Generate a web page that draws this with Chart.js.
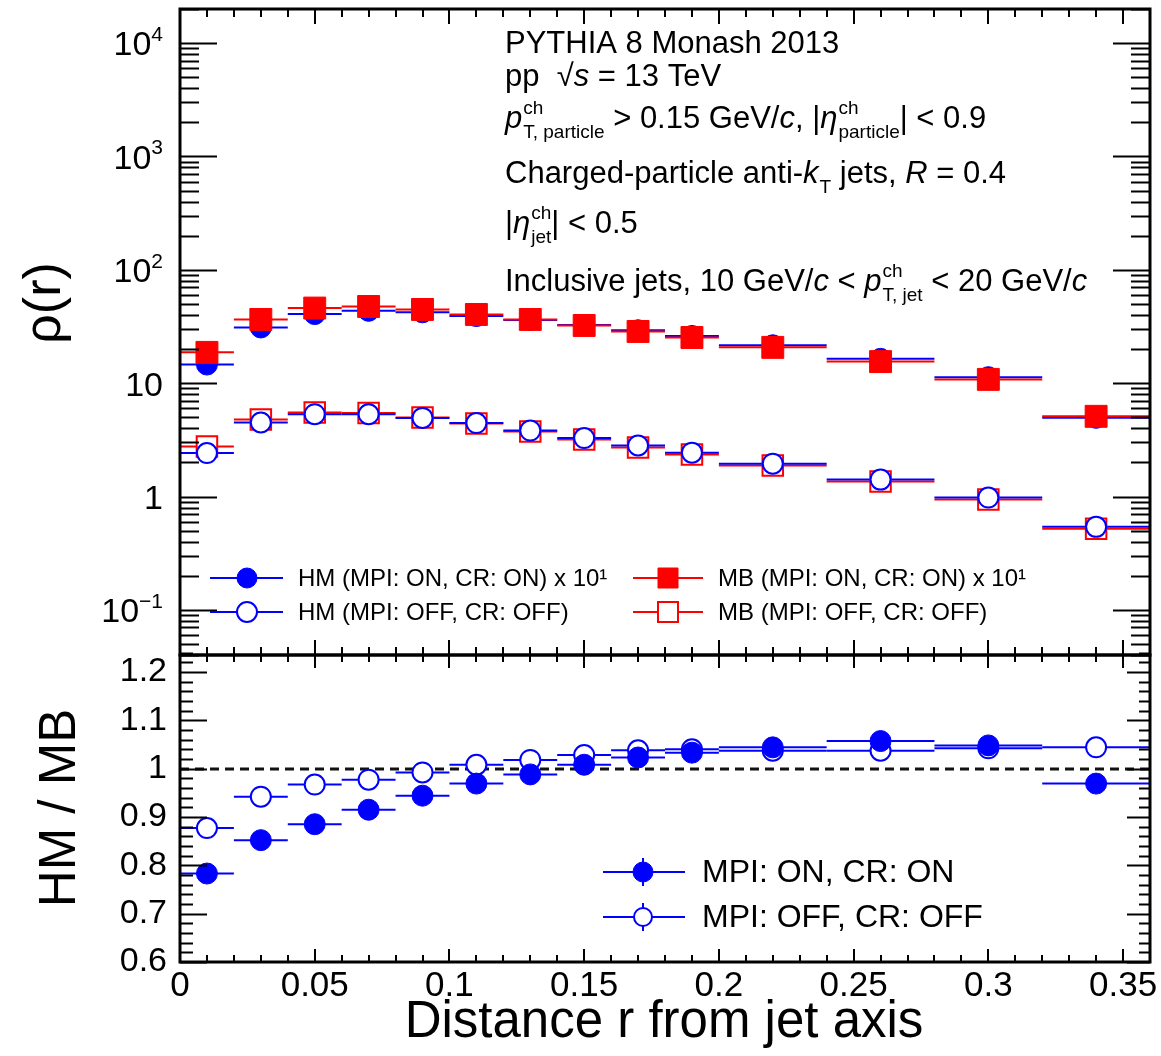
<!DOCTYPE html>
<html>
<head>
<meta charset="utf-8">
<script src="https://cdn.jsdelivr.net/npm/chart.js@4.4.0/dist/chart.umd.min.js"></script>
<style>
  body { margin: 0; background: #fff; }
  #wrap { position: relative; width: 1161px; height: 1056px; }
  canvas { position: absolute; left: 0; top: 0; }
</style>
</head>
<body>
<div id="wrap">
  <canvas id="topPanel" width="1161" height="1056"></canvas>
  <canvas id="ratioPanel" width="1161" height="1056"></canvas>
</div>
<script>
// bins in r
const binEdges = [0, 0.02, 0.04, 0.06, 0.08, 0.10, 0.12, 0.14, 0.16, 0.18, 0.20, 0.24, 0.28, 0.32, 0.36];
const rCenters = [0.01, 0.03, 0.05, 0.07, 0.09, 0.11, 0.13, 0.15, 0.17, 0.19, 0.22, 0.26, 0.30, 0.34];

// rho(r), MPI ON / CR ON are scaled x 10
const hmOn  = [14.6, 31.0, 40.7, 43.5, 42.2, 39.1, 36.1, 32.6, 29.3, 26.1, 21.6, 16.4, 11.3, 4.95];
const mbOn  = [18.7, 36.5, 46.0, 47.5, 44.7, 40.4, 36.5, 32.3, 28.6, 25.3, 20.7, 15.5, 10.8, 5.1];
const hmOff = [2.42, 4.50, 5.33, 5.32, 4.94, 4.45, 3.82, 3.28, 2.82, 2.44, 1.95, 1.41, 0.98, 0.54];
const mbOff = [2.76, 4.78, 5.51, 5.45, 4.98, 4.41, 3.75, 3.18, 2.71, 2.35, 1.88, 1.36, 0.94, 0.52];

// HM / MB
const ratioOn  = [0.783, 0.852, 0.885, 0.915, 0.944, 0.969, 0.988, 1.008, 1.023, 1.033, 1.044, 1.057, 1.048, 0.969];
const ratioOff = [0.877, 0.942, 0.967, 0.977, 0.992, 1.008, 1.018, 1.028, 1.038, 1.040, 1.037, 1.037, 1.042, 1.044];

const xTicks = [0, 0.05, 0.1, 0.15, 0.2, 0.25, 0.3, 0.35];
const xTickLabels = ['0', '0.05', '0.1', '0.15', '0.2', '0.25', '0.3', '0.35'];
const logTicks = [0.1, 1, 10, 100, 1000, 10000];
const logTickLabels = [['10', '\u22121'], ['1', ''], ['10', ''], ['10', '2'], ['10', '3'], ['10', '4']];
const ratioTicks = [0.6, 0.7, 0.8, 0.9, 1.0, 1.1, 1.2];
const ratioTickLabels = ['0.6', '0.7', '0.8', '0.9', '1', '1.1', '1.2'];

const BLUE = '#0000ff';
const RED = '#ff0000';
const FONT = '"Liberation Sans", Arial, Helvetica, sans-serif';
Chart.defaults.font.family = FONT;
Chart.defaults.color = '#000';

function series(values, color, style, filled, radius) {
  return {
    data: values.map((v, i) => ({ x: rCenters[i], y: v })),
    pointStyle: style,
    pointRadius: radius,
    pointHoverRadius: radius,
    pointBackgroundColor: filled ? color : '#fff',
    pointBorderColor: color,
    pointBorderWidth: filled ? 1 : 2,
    showLine: false,
    errColor: color
  };
}

// horizontal bars showing the bin width
const xErrBars = {
  id: 'xErrBars',
  beforeDatasetsDraw(chart) {
    const { ctx, chartArea: a, scales: { x, y } } = chart;
    ctx.save();
    ctx.beginPath();
    ctx.rect(a.left, a.top, a.width, a.height);
    ctx.clip();
    const sets = chart.data.datasets;
    for (let d = sets.length - 1; d >= 0; d--) {
      const ds = sets[d];
      ctx.strokeStyle = ds.errColor;
      ctx.lineWidth = 2;
      ds.data.forEach((p, i) => {
        const py = y.getPixelForValue(p.y);
        ctx.beginPath();
        ctx.moveTo(x.getPixelForValue(binEdges[i]), py);
        ctx.lineTo(x.getPixelForValue(binEdges[i + 1]), py);
        ctx.stroke();
      });
    }
    ctx.restore();
  }
};

// ROOT style frame with inward ticks on all sides
function drawFrame(chart, yTickList, o) {
  const { ctx, chartArea: a, scales: { x, y } } = chart;
  ctx.save();
  ctx.strokeStyle = '#000';
  ctx.lineWidth = 2;
  ctx.beginPath();
  for (let k = 0; k <= 36; k++) {
    const px = Math.round(x.getPixelForValue(k / 100));
    const len = k % 5 === 0 ? o.xMajor : o.xMinor;
    ctx.moveTo(px, a.top); ctx.lineTo(px, a.top + len);
    ctx.moveTo(px, a.bottom); ctx.lineTo(px, a.bottom - len);
  }
  yTickList.forEach(t => {
    const py = Math.round(y.getPixelForValue(t.v)) + 0.5;
    ctx.moveTo(a.left, py); ctx.lineTo(a.left + (t.major ? o.yMajor : o.yMinor), py);
    ctx.moveTo(a.right, py); ctx.lineTo(a.right - (t.major ? o.yMajorR : o.yMinorR), py);
  });
  ctx.stroke();
  ctx.lineWidth = 3;
  ctx.strokeRect(a.left, a.top, a.width, a.height);
  ctx.restore();
}

function marker(ctx, x, y, style, color, filled, r) {
  ctx.save();
  ctx.fillStyle = filled ? color : '#fff';
  ctx.strokeStyle = color;
  ctx.lineWidth = filled ? 1 : 2;
  ctx.beginPath();
  if (style === 'circle') ctx.arc(x, y, r, 0, Math.PI * 2);
  else ctx.rect(x - r, y - r, 2 * r, 2 * r);
  ctx.fill();
  ctx.stroke();
  ctx.restore();
}

function legendLine(ctx, x0, x1, y, color) {
  ctx.save();
  ctx.strokeStyle = color;
  ctx.lineWidth = 2;
  ctx.beginPath();
  ctx.moveTo(x0, y); ctx.lineTo(x1, y);
  ctx.stroke();
  ctx.restore();
}

// text with italics and stacked sub/superscripts
function drawRich(ctx, x, y, segs, size) {
  ctx.textBaseline = 'alphabetic';
  ctx.textAlign = 'left';
  ctx.fillStyle = '#000';
  segs.forEach(s => {
    if (typeof s === 'string') s = { t: s };
    if (s.sup !== undefined || s.sub !== undefined) {
      const ss = Math.round(size * 0.6);
      ctx.font = ss + 'px ' + FONT;
      let w = 0;
      if (s.sup) { ctx.fillText(s.sup, x + 1, y - size * 0.45); w = Math.max(w, ctx.measureText(s.sup).width); }
      if (s.sub) { ctx.fillText(s.sub, x + 1, y + size * 0.32); w = Math.max(w, ctx.measureText(s.sub).width); }
      x += w + 1;
    } else {
      ctx.font = (s.i ? 'italic ' : '') + size + 'px ' + FONT;
      ctx.fillText(s.t, x, y);
      x += ctx.measureText(s.t).width;
    }
  });
}

const infoLines = [
  [['PYTHIA 8 Monash 2013'], 53],
  [['pp  \u221A', { t: 's', i: true }, ' = 13 TeV'], 86],
  [[{ t: 'p', i: true }, { sup: 'ch', sub: 'T, particle' }, ' > 0.15 GeV/', { t: 'c', i: true }, ', |', { t: '\u03B7', i: true }, { sup: 'ch', sub: 'particle' }, '| < 0.9'], 128],
  [['Charged-particle anti-', { t: 'k', i: true }, { sub: 'T' }, ' jets, ', { t: 'R', i: true }, ' = 0.4'], 183],
  [['|', { t: '\u03B7', i: true }, { sup: 'ch', sub: 'jet' }, '| < 0.5'], 233],
  [['Inclusive jets, 10 GeV/', { t: 'c', i: true }, ' < ', { t: 'p', i: true }, { sup: 'ch', sub: 'T, jet' }, ' < 20 GeV/', { t: 'c', i: true }], 291]
];

const topDecor = {
  id: 'topDecor',
  afterDraw(chart) {
    const { ctx, scales: { y } } = chart;
    const ticks = [];
    for (let e = -2; e <= 4; e++) {
      for (let m = 1; m <= 9; m++) {
        const v = m * Math.pow(10, e);
        if (v >= y.min && v <= y.max) ticks.push({ v, major: m === 1 });
      }
    }
    drawFrame(chart, ticks, { xMajor: 15, xMinor: 8, yMajor: 37, yMinor: 19, yMajorR: 37, yMinorR: 19 });

    // log tick labels with exponent
    ctx.save();
    ctx.fillStyle = '#000';
    ctx.textBaseline = 'middle';
    ctx.textAlign = 'right';
    logTicks.forEach((v, i) => {
      const py = y.getPixelForValue(v) + 3;
      const [base, exp] = logTickLabels[i];
      let right = 163;
      if (exp) {
        ctx.font = '21px ' + FONT;
        ctx.fillText(exp, right, py - 11);
        right -= ctx.measureText(exp).width;
      }
      ctx.font = '34px ' + FONT;
      ctx.fillText(base, right, py);
    });

    // y title
    ctx.translate(60, 303);
    ctx.rotate(-Math.PI / 2);
    ctx.textAlign = 'center';
    ctx.textBaseline = 'alphabetic';
    ctx.font = '52px ' + FONT;
    ctx.fillText('\u03C1(r)', 0, 0);
    ctx.restore();

    // info text
    ctx.save();
    infoLines.forEach(([segs, by]) => drawRich(ctx, 505, by, segs, 31));
    ctx.restore();

    // legend
    ctx.save();
    ctx.font = '24px ' + FONT;
    ctx.textBaseline = 'middle';
    ctx.fillStyle = '#000';
    legendLine(ctx, 210, 283, 578, BLUE);
    marker(ctx, 247, 578, 'circle', BLUE, true, 10);
    ctx.fillText('HM (MPI: ON, CR: ON) x 10\u00B9', 298, 579);
    legendLine(ctx, 210, 283, 612, BLUE);
    marker(ctx, 247, 612, 'circle', BLUE, false, 10);
    ctx.fillText('HM (MPI: OFF, CR: OFF)', 298, 613);
    legendLine(ctx, 633, 703, 578, RED);
    marker(ctx, 668, 578, 'rect', RED, true, 10);
    ctx.fillText('MB (MPI: ON, CR: ON) x 10\u00B9', 718, 579);
    legendLine(ctx, 633, 703, 612, RED);
    marker(ctx, 668, 612, 'rect', RED, false, 10);
    ctx.fillText('MB (MPI: OFF, CR: OFF)', 718, 613);
    ctx.restore();
  }
};

const ratioDecor = {
  id: 'ratioDecor',
  beforeDatasetsDraw(chart) {
    const { ctx, chartArea: a, scales: { y } } = chart;
    const py = Math.round(y.getPixelForValue(1));
    ctx.save();
    ctx.strokeStyle = '#111';
    ctx.lineWidth = 3;
    ctx.setLineDash([9, 6]);
    ctx.beginPath();
    ctx.moveTo(a.left, py); ctx.lineTo(a.right, py);
    ctx.stroke();
    ctx.restore();
  },
  afterDraw(chart) {
    const { ctx, scales: { x } } = chart;
    const ticks = [];
    for (let k = 0; k <= 32; k++) ticks.push({ v: 0.6 + k * 0.02, major: k % 5 === 0 });
    drawFrame(chart, ticks, { xMajor: 13, xMinor: 7, yMajor: 27, yMinor: 13, yMajorR: 23, yMinorR: 11 });

    ctx.save();
    ctx.fillStyle = '#000';
    // x tick labels
    ctx.font = '35px ' + FONT;
    ctx.textAlign = 'center';
    ctx.textBaseline = 'middle';
    xTicks.forEach((v, i) => ctx.fillText(xTickLabels[i], x.getPixelForValue(v), 986));

    ctx.font = '51px ' + FONT;
    ctx.textBaseline = 'alphabetic';
    ctx.fillText('Distance r from jet axis', 664, 1037);
    ctx.translate(75, 808);
    ctx.rotate(-Math.PI / 2);
    ctx.fillText('HM / MB', 0, 0);
    ctx.restore();

    // legend
    ctx.save();
    ctx.font = '32px ' + FONT;
    ctx.textBaseline = 'middle';
    ctx.fillStyle = '#000';
    [[872, true, 'MPI: ON, CR: ON'], [917, false, 'MPI: OFF, CR: OFF']].forEach(([ly, filled, txt]) => {
      legendLine(ctx, 603, 685, ly, BLUE);
      ctx.save();
      ctx.strokeStyle = BLUE; ctx.lineWidth = 2;
      ctx.beginPath(); ctx.moveTo(643, ly - 14); ctx.lineTo(643, ly + 14); ctx.stroke();
      ctx.restore();
      marker(ctx, 643, ly, 'circle', BLUE, filled, filled ? 10 : 9);
      ctx.fillText(txt, 702, ly + 1);
    });
    ctx.restore();
  }
};

const hiddenGrid = { display: false, drawTicks: false };

new Chart(document.getElementById('topPanel'), {
  type: 'scatter',
  data: {
    datasets: [
      series(mbOn, RED, 'rect', true, 15.5),
      series(hmOff, BLUE, 'circle', false, 10),
      series(mbOff, RED, 'rect', false, 14.5),
      series(hmOn, BLUE, 'circle', true, 10.5)
    ]
  },
  options: {
    responsive: false,
    animation: false,
    events: [],
    layout: { autoPadding: false, padding: { left: 0, top: 9, right: 11, bottom: 401 } },
    plugins: { legend: { display: false }, tooltip: { enabled: false } },
    scales: {
      x: {
        type: 'linear', min: 0, max: 0.36,
        ticks: { display: false },
        grid: hiddenGrid, border: { display: false },
        afterFit: s => { s.height = 0; }
      },
      y: {
        type: 'logarithmic', min: 0.04, max: 20000,
        ticks: { display: false },
        grid: hiddenGrid, border: { display: false },
        afterFit: s => { s.width = 180; }
      }
    }
  },
  plugins: [xErrBars, topDecor]
});

new Chart(document.getElementById('ratioPanel'), {
  type: 'scatter',
  data: {
    datasets: [
      series(ratioOn, BLUE, 'circle', true, 10.5),
      series(ratioOff, BLUE, 'circle', false, 10)
    ]
  },
  options: {
    responsive: false,
    animation: false,
    events: [],
    layout: { autoPadding: false, padding: { left: 0, top: 655, right: 11, bottom: 94 } },
    plugins: { legend: { display: false }, tooltip: { enabled: false } },
    scales: {
      x: {
        type: 'linear', min: 0, max: 0.36,
        ticks: { display: false },
        grid: hiddenGrid, border: { display: false },
        afterFit: s => { s.height = 0; }
      },
      y: {
        type: 'linear', min: 0.6, max: 1.235,
        afterBuildTicks: s => { s.ticks = ratioTicks.map(v => ({ value: v })); },
        ticks: { callback: (v, i) => ratioTickLabels[i], font: { size: 34 }, color: '#000', padding: 13 },
        grid: hiddenGrid, border: { display: false },
        afterFit: s => { s.width = 180; }
      }
    }
  },
  plugins: [xErrBars, ratioDecor]
});
</script>
</body>
</html>
